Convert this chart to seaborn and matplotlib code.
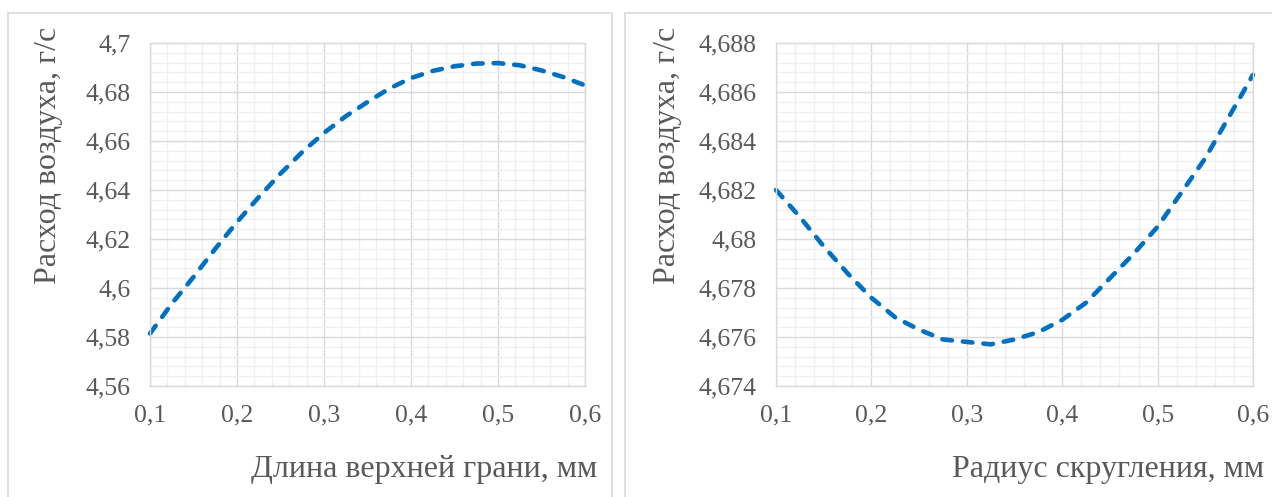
import matplotlib
matplotlib.use("Agg")
import matplotlib.pyplot as plt
import matplotlib.ticker as mticker
from matplotlib.patches import Rectangle
import seaborn as sns
import pandas as pd

# values (step 0.025 mm)
length_mm = [0.100, 0.125, 0.150, 0.175, 0.200, 0.225, 0.250, 0.275, 0.300, 0.325, 0.350,
             0.375, 0.400, 0.425, 0.450, 0.475, 0.500, 0.525, 0.550, 0.575, 0.600]
flow_length = [4.5814, 4.5936, 4.6045, 4.6160, 4.6269, 4.6371, 4.6467, 4.6555, 4.6633, 4.6701, 4.6759,
               4.6814, 4.6857, 4.6886, 4.6905, 4.6916, 4.6918, 4.6909, 4.6888, 4.6861, 4.6827]

radius_mm = [0.100, 0.125, 0.150, 0.175, 0.200, 0.225, 0.250, 0.275, 0.300, 0.325, 0.350,
             0.375, 0.400, 0.425, 0.450, 0.475, 0.500, 0.525, 0.550, 0.575, 0.600]
flow_radius = [4.6820, 4.6809, 4.6797, 4.6786, 4.6776, 4.6768, 4.6763, 4.6759, 4.6758, 4.6757, 4.6759,
               4.6762, 4.6767, 4.6774, 4.6784, 4.6794, 4.6805, 4.6819, 4.6833, 4.6850, 4.6867]

x_labels = ["Длина верхней грани, мм", "Радиус скругления, мм"]
y_label = "Расход воздуха, г/с"

GRAY_TEXT = "#595959"
GRID_MAJOR = "#d9d9d9"
GRID_MINOR = "#f0f0f0"
LINE_BLUE = "#0070C0"

sns.set_style("white")
plt.rcParams["font.family"] = ["Liberation Serif", "DejaVu Serif"]

W, H = 1272, 497
fig = plt.figure(figsize=(W / 100, H / 100), dpi=100)


def px_axes(x0, y0, x1, y1):
    return fig.add_axes([x0 / W, 1 - y1 / H, (x1 - x0) / W, (y1 - y0) / H])


def style_axes(ax, ylim, ystep, ydec):
    ax.set_xlim(0.1, 0.6)
    ax.set_ylim(*ylim)
    ax.xaxis.set_major_locator(mticker.MultipleLocator(0.1))
    ax.xaxis.set_minor_locator(mticker.MultipleLocator(0.02))
    ax.yaxis.set_major_locator(mticker.MultipleLocator(ystep))
    ax.yaxis.set_minor_locator(mticker.MultipleLocator(ystep / 5))
    ax.xaxis.set_major_formatter(mticker.FuncFormatter(lambda v, p: f"{v:.1f}".replace(".", ",")))

    def yfmt(v, p):
        s = f"{v:.{ydec}f}".rstrip("0").rstrip(".")
        return s.replace(".", ",")
    ax.yaxis.set_major_formatter(mticker.FuncFormatter(yfmt))
    ax.grid(which="major", color=GRID_MAJOR, lw=1.0)
    ax.grid(which="minor", color=GRID_MINOR, lw=1.0)
    ax.set_axisbelow(True)
    for s in ax.spines.values():
        s.set_color(GRID_MAJOR)
        s.set_linewidth(1.0)
    ax.tick_params(which="both", length=0, labelsize=18.5, labelcolor=GRAY_TEXT)
    ax.tick_params(axis="y", pad=14)
    ax.tick_params(axis="x", pad=13)
    ax.set_xlabel("")
    ax.set_ylabel("")


# panel frames
fig.patches.append(Rectangle((8 / W, -0.1), (612 - 8) / W, 1.1 - 13 / H, transform=fig.transFigure,
                             fill=False, edgecolor=GRID_MAJOR, lw=1.2))
fig.patches.append(Rectangle((625 / W, -0.1), 0.6, 1.1 - 13 / H, transform=fig.transFigure,
                             fill=False, edgecolor=GRID_MAJOR, lw=1.2))

line_kw = dict(color=LINE_BLUE, lw=3.3, linestyle=(0, (2.1, 2.4)),
               dash_capstyle="round", clip_on=False)

ax1 = px_axes(150, 43, 585, 386)
df1 = pd.DataFrame({"x": length_mm, "y": flow_length})
sns.lineplot(data=df1, x="x", y="y", ax=ax1, **line_kw)
style_axes(ax1, (4.56, 4.70), 0.02, 2)

ax2 = px_axes(776, 43, 1253, 386)
df2 = pd.DataFrame({"x": radius_mm, "y": flow_radius})
sns.lineplot(data=df2, x="x", y="y", ax=ax2, **line_kw)
style_axes(ax2, (4.674, 4.688), 0.002, 3)

# axis titles
fig.text(597 / W, 1 - 470 / H, x_labels[0], ha="right", va="center", fontsize=23, color=GRAY_TEXT)
fig.text(1264 / W, 1 - 470 / H, x_labels[1], ha="right", va="center", fontsize=23, color=GRAY_TEXT)
fig.text(49 / W, 1 - 27 / H, y_label, ha="center", va="top", rotation=90, fontsize=23, color=GRAY_TEXT)
fig.text(667 / W, 1 - 27 / H, y_label, ha="center", va="top", rotation=90, fontsize=23, color=GRAY_TEXT)

fig.savefig("out.png", dpi=100)
